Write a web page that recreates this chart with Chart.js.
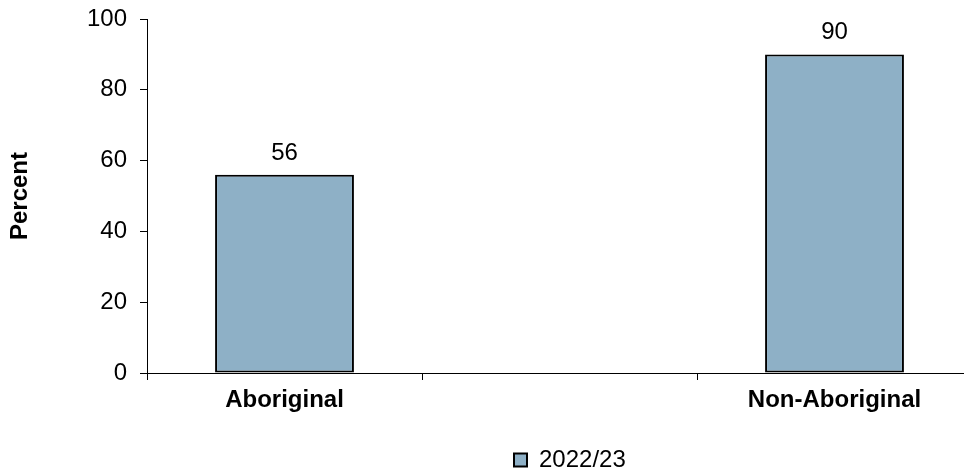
<!DOCTYPE html>
<html>
<head>
<meta charset="utf-8">
<script src="https://cdn.jsdelivr.net/npm/chart.js@4/dist/chart.umd.min.js"></script>
<style>
  html, body { margin: 0; padding: 0; background: #ffffff; overflow: hidden; }
  #wrap { width: 1000px; height: 470px; }
</style>
</head>
<body>
<div id="wrap"><canvas id="c" width="1000" height="470"></canvas></div>
<script>
const categories = ['Aboriginal', '', 'Non-Aboriginal'];
const seriesName = '2022/23';
const values = [56, null, 90];
const yTicks = [0, 20, 40, 60, 80, 100];

const FONT = "'Liberation Sans', Arial, sans-serif";

const valueLabels = {
  id: 'valueLabels',
  afterDatasetsDraw(chart) {
    const ctx = chart.ctx;
    ctx.save();
    ctx.font = '24px ' + FONT;
    ctx.fillStyle = '#000';
    ctx.textAlign = 'center';
    ctx.textBaseline = 'alphabetic';
    chart.getDatasetMeta(0).data.forEach((bar, i) => {
      const v = chart.data.datasets[0].data[i];
      if (v === null || v === undefined) return;
      ctx.fillText(String(v), bar.x, bar.y - 15);
    });
    ctx.restore();
  }
};

const legendShift = {
  id: 'legendShift',
  afterLayout(chart) {
    const lg = chart.legend;
    if (!lg || !lg.lineWidths) return;
    const pad = lg.options.labels.padding;
    const start = (lg.left + pad + lg.right - lg.lineWidths[0]) / 2;
    const dx = 514 - start;
    lg.left += dx; lg.right += dx;
    const dy = 448 - (lg.top + pad);
    lg.top += dy; lg.bottom += dy;
  }
};

new Chart(document.getElementById('c'), {
  type: 'bar',
  data: {
    labels: categories,
    datasets: [{
      label: seriesName,
      data: values,
      backgroundColor: '#8eb0c6',
      borderColor: '#000000',
      borderWidth: 2,
      borderSkipped: false,
      barPercentage: 0.505,
      categoryPercentage: 1.0
    }]
  },
  options: {
    responsive: false,
    animation: false,
    devicePixelRatio: 1,
    layout: { padding: { top: 19, right: 28, bottom: 0, left: 0 } },
    plugins: {
      tooltip: { enabled: false },
      legend: {
        display: true,
        position: 'bottom',
        labels: {
          boxWidth: 13,
          boxHeight: 13,
          padding: 10,
          color: '#000',
          font: { family: FONT, size: 24 }
        }
      }
    },
    scales: {
      x: {
        offset: true,
        grid: { display: true, offset: true, drawOnChartArea: false, drawTicks: true, tickLength: 7, color: '#000', lineWidth: 1 },
        border: { display: true, color: '#000', width: 1 },
        ticks: { color: '#000', padding: 6, maxRotation: 0, autoSkip: false, font: { family: FONT, size: 24, weight: 'bold' } },
        afterFit(s) { s.height = 53; s.paddingLeft = 0; s.paddingRight = 0; }
      },
      y: {
        min: 0,
        max: 100,
        afterBuildTicks(s) { s.ticks = yTicks.map(v => ({ value: v })); },
        grid: { display: true, drawOnChartArea: false, drawTicks: true, tickLength: 7, color: '#000', lineWidth: 1 },
        border: { display: true, color: '#000', width: 1 },
        ticks: { color: '#000', padding: 13, font: { family: FONT, size: 24 } },
        title: { display: true, text: 'Percent', color: '#000', padding: { top: 6, bottom: 0 }, font: { family: FONT, size: 24, weight: 'bold' } },
        afterFit(s) { s.width = 147; s.paddingTop = 0; s.paddingBottom = 0; }
      }
    }
  },
  plugins: [valueLabels, legendShift]
});
</script>
</body>
</html>
